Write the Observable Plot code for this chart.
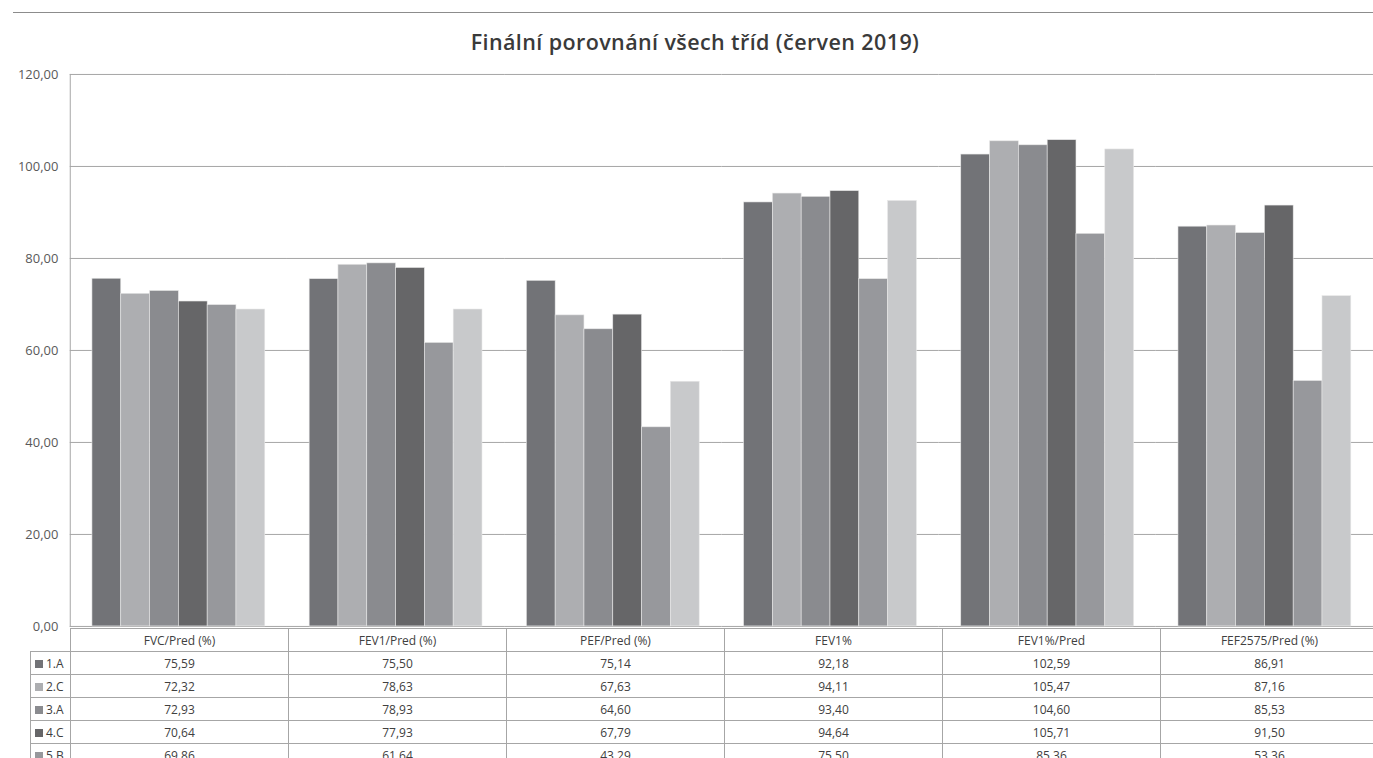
<!DOCTYPE html>
<html>
<head>
<meta charset="utf-8">
<script src="https://cdn.jsdelivr.net/npm/d3@7"></script>
<script src="https://cdn.jsdelivr.net/npm/@observablehq/plot@0.6"></script>
<style>
  html, body { margin: 0; padding: 0; background: #fff; }
  body { width: 1373px; height: 758px; overflow: hidden; position: relative; font-family: "Open Sans", sans-serif; }
  #topline { position: absolute; left: 13px; right: 0; top: 12px; height: 0; border-top: 1px solid #8c8c8c; }
  #title { position: absolute; left: 0; width: 1390px; top: 27px; text-align: center; font-size: 21.5px; letter-spacing: 0.4px; font-weight: 600; color: #3a3a3a; }
  #chart { position: absolute; left: 0; top: 64px; }
  #tbl { position: absolute; left: 30px; top: 628px; width: 1348px; border-collapse: collapse; table-layout: fixed; font-size: 12px; color: #404040; }
  #tbl td { border: 1px solid #a6a6a6; height: 22px; padding: 0; text-align: center; white-space: nowrap; overflow: hidden; }
  #tbl td.lab { text-align: left; padding-left: 4px; }
  #tbl td.blank { border: none; }
  .key { display: inline-block; width: 8px; height: 8px; margin-right: 3px; vertical-align: 0px; }
</style>
</head>
<body>
<div id="topline"></div>
<div id="title"></div>
<div id="chart"></div>
<table id="tbl"></table>
<script>
const titleText = "Finální porovnání všech tříd (červen 2019)";
const categories = ["FVC/Pred (%)", "FEV1/Pred (%)", "PEF/Pred (%)", "FEV1%", "FEV1%/Pred", "FEF2575/Pred (%)"];
const seriesNames = ["1.A", "2.C", "3.A", "4.C", "5.B", "6."];
const values_1A = [75.59, 75.50, 75.14, 92.18, 102.59, 86.91];
const values_2C = [72.32, 78.63, 67.63, 94.11, 105.47, 87.16];
const values_3A = [72.93, 78.93, 64.60, 93.40, 104.60, 85.53];
const values_4C = [70.64, 77.93, 67.79, 94.64, 105.71, 91.50];
const values_5B = [69.86, 61.64, 43.29, 75.50, 85.36, 53.36];
const values_6 = [68.9, 68.9, 53.2, 92.5, 103.7, 71.8];
const yTicks = [0, 20, 40, 60, 80, 100, 120];
const seriesColors = ["#727377", "#adaeb1", "#8a8b8f", "#666668", "#97989c", "#c8c9cb"];

const allValues = [values_1A, values_2C, values_3A, values_4C, values_5B, values_6];
const fmt = d => d.toFixed(2).replace(".", ",");

const data = [];
seriesNames.forEach((s, i) => {
  categories.forEach((c, j) => data.push({series: s, category: c, value: allValues[i][j]}));
});

document.getElementById("title").textContent = titleText;

const plot = Plot.plot({
  width: 1378,
  height: 574,
  marginLeft: 70,
  marginRight: 0,
  marginTop: 10,
  marginBottom: 10,
  style: {fontFamily: "Open Sans, sans-serif", fontSize: "13px", color: "#595959", background: "transparent", overflow: "visible"},
  fx: {domain: categories, padding: 0, round: false, axis: null, label: null},
  x: {domain: seriesNames, paddingInner: 0, paddingOuter: 0.77, round: false, axis: null, label: null},
  y: {domain: [0, 120], label: null},
  color: {domain: seriesNames, range: seriesColors},
  marks: [
    Plot.gridY(yTicks, {stroke: "#a6a6a6", strokeOpacity: 1, strokeWidth: 1}),
    Plot.axisY({ticks: yTicks, tickFormat: fmt, tickSize: 0, tickPadding: 12, label: null, fill: "#595959", fontSize: 13}),
    Plot.frame({anchor: "left", facetAnchor: "left", stroke: "#a6a6a6"}),
    Plot.barY(data, {fx: "category", x: "series", y: "value", fill: "series", stroke: "#e8e8e8", strokeWidth: 0.6})
  ]
});
document.getElementById("chart").appendChild(plot);

// data table below the chart
const tbl = document.getElementById("tbl");
const colgroup = document.createElement("colgroup");
[40, ...categories.map(() => 218)].forEach(w => {
  const col = document.createElement("col");
  col.style.width = w + "px";
  colgroup.appendChild(col);
});
tbl.appendChild(colgroup);
const head = document.createElement("tr");
const blank = document.createElement("td");
blank.className = "blank";
head.appendChild(blank);
categories.forEach(c => {
  const td = document.createElement("td");
  td.textContent = c;
  head.appendChild(td);
});
tbl.appendChild(head);
seriesNames.forEach((s, i) => {
  const tr = document.createElement("tr");
  const lab = document.createElement("td");
  lab.className = "lab";
  const key = document.createElement("span");
  key.className = "key";
  key.style.background = seriesColors[i];
  lab.appendChild(key);
  lab.appendChild(document.createTextNode(s));
  tr.appendChild(lab);
  allValues[i].forEach(v => {
    const td = document.createElement("td");
    td.textContent = fmt(v);
    tr.appendChild(td);
  });
  tbl.appendChild(tr);
});
</script>
</body>
</html>
